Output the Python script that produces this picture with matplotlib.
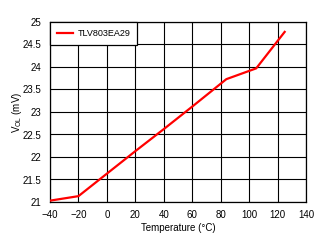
import matplotlib
matplotlib.use("Agg")
import matplotlib.pyplot as plt

plt.rcParams["font.family"] = ["Liberation Sans", "DejaVu Sans"]

temperatura = [-40, -20, 0, 20, 40, 60, 84, 105, 125]
vol_mv = [21.03, 21.13, 21.63, 22.13, 22.62, 23.12, 23.73, 23.97, 24.78]

fig = plt.figure(figsize=(3.27, 2.43), dpi=100)
ax = fig.add_axes([50 / 327, 1 - 202 / 243, (306 - 50) / 327, (202 - 22) / 243])

ax.plot(temperatura, vol_mv, color="#ff0000", linewidth=1.6, label="TLV803EA29", zorder=3)

ax.set_xlim(-40, 140)
ax.set_ylim(21, 25)
ax.set_xticks(range(-40, 141, 20))
ax.set_yticks([21, 21.5, 22, 22.5, 23, 23.5, 24, 24.5, 25])
ax.set_yticklabels(["21", "21.5", "22", "22.5", "23", "23.5", "24", "24.5", "25"])
ax.grid(True, color="black", linewidth=0.8)
ax.tick_params(length=0, labelsize=7, pad=6, colors="black")
for s in ax.spines.values():
    s.set_linewidth(0.9)

ax.set_xlabel("Temperature (°C)", fontsize=7, labelpad=2)
ax.set_ylabel(r"V$_{\mathregular{OL}}$ (mV)", fontsize=7, labelpad=-1)

leg = ax.legend(loc="upper left", fontsize=6.5, borderaxespad=0, fancybox=False,
                framealpha=1, edgecolor="black", handlelength=1.8,
                borderpad=0.75, handletextpad=0.5)
leg.get_frame().set_linewidth(0.9)

fig.savefig("out.png", dpi=100)
